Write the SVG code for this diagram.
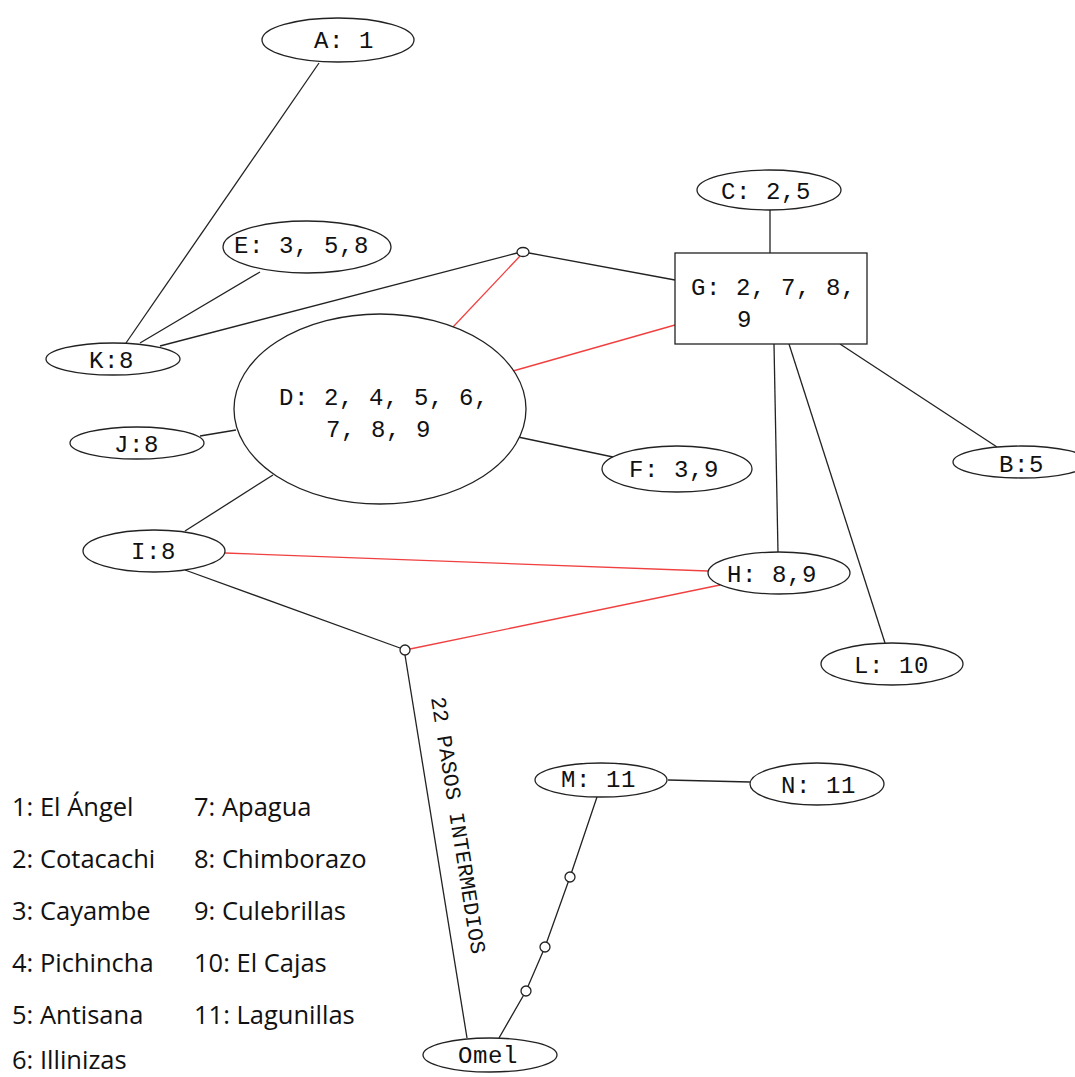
<svg xmlns="http://www.w3.org/2000/svg" width="1075" height="1077" viewBox="0 0 1075 1077">
<style>
.n{fill:#fff;stroke:#222;stroke-width:1.3}
.t{font-family:"Liberation Mono","DejaVu Sans Mono",monospace;font-size:24px;letter-spacing:0.6px;fill:#111}
.rt{font-family:"Liberation Mono","DejaVu Sans Mono",monospace;font-size:21.5px;letter-spacing:0.1px;fill:#111}
.e{stroke:#222;stroke-width:1.3;fill:none}
.r{stroke:#f04040;stroke-width:1.3;fill:none}
.j{fill:#fff;stroke:#222;stroke-width:1.3}
.lg{font-family:"Open Sans","Noto Sans","Liberation Sans",sans-serif;font-size:25.5px;fill:#111}
</style>
<rect width="1075" height="1077" fill="#fff"/>
<g id="connectors">
<line class="e" x1="319" y1="63" x2="126" y2="343"/>
<line class="e" x1="260" y1="272" x2="140" y2="343"/>
<line class="e" x1="160" y1="346" x2="517" y2="253"/>
<line class="e" x1="529" y1="253" x2="675" y2="280"/>
<line class="r" x1="520" y1="256" x2="453" y2="327"/>
<line class="r" x1="675" y1="325" x2="513" y2="371"/>
<line class="e" x1="770" y1="210" x2="770" y2="253"/>
<line class="e" x1="840" y1="344" x2="997" y2="447"/>
<line class="e" x1="774" y1="344" x2="778" y2="553"/>
<line class="e" x1="789" y1="344" x2="885" y2="643"/>
<line class="e" x1="200" y1="436" x2="236" y2="430"/>
<line class="e" x1="518" y1="437" x2="613" y2="457"/>
<line class="e" x1="273" y1="475" x2="185" y2="531"/>
<line class="r" x1="225" y1="553" x2="708" y2="571"/>
<line class="e" x1="185" y1="570" x2="400" y2="648"/>
<line class="r" x1="410" y1="649" x2="720" y2="585"/>
<line class="e" x1="405" y1="655" x2="467" y2="1038"/>
<line class="e" x1="668" y1="780" x2="750" y2="782"/>
<polyline class="e" points="597,797 570,877 545,947 526,991 499,1038"/>
<text class="rt" transform="translate(431,698) rotate(81)">22 PASOS INTERMEDIOS</text>
<ellipse class="j" cx="523" cy="252" rx="6" ry="4.5"/>
<circle class="j" cx="405" cy="650" r="5"/>
<circle class="j" cx="570" cy="877" r="5"/>
<circle class="j" cx="545" cy="947" r="5"/>
<circle class="j" cx="526" cy="991" r="5"/>
</g>
<g id="A"><ellipse class="n" cx="338" cy="40" rx="76" ry="22"/><text class="t" x="314" y="48">A: 1</text></g>
<g id="C"><ellipse class="n" cx="769" cy="190" rx="72" ry="20"/><text class="t" x="721" y="199">C: 2,5</text></g>
<g id="E"><ellipse class="n" cx="307" cy="247" rx="84" ry="26"/><text class="t" x="234" y="253">E: 3, 5,8</text></g>
<g id="G"><rect class="n" x="675" y="253" width="192" height="91"/><text class="t" x="691" y="295">G: 2, 7, 8,</text><text class="t" x="737" y="327">9</text></g>
<g id="K"><ellipse class="n" cx="113" cy="359" rx="67" ry="16"/><text class="t" x="89" y="368">K:8</text></g>
<g id="D"><ellipse class="n" cx="380" cy="409" rx="146" ry="95"/><text class="t" x="279" y="405">D: 2, 4, 5, 6,</text><text class="t" x="326" y="437">7, 8, 9</text></g>
<g id="J"><ellipse class="n" cx="137" cy="443" rx="67" ry="16"/><text class="t" x="114" y="452">J:8</text></g>
<g id="F"><ellipse class="n" cx="677" cy="469" rx="75" ry="23"/><text class="t" x="629" y="477">F: 3,9</text></g>
<g id="B"><ellipse class="n" cx="1021" cy="462" rx="68" ry="16"/><text class="t" x="999" y="472">B:5</text></g>
<g id="I"><ellipse class="n" cx="154" cy="551" rx="71" ry="21"/><text class="t" x="131" y="559">I:8</text></g>
<g id="H"><ellipse class="n" cx="779" cy="573" rx="71" ry="21"/><text class="t" x="727" y="582">H: 8,9</text></g>
<g id="L"><ellipse class="n" cx="892" cy="664" rx="71" ry="21"/><text class="t" x="854" y="673">L: 10</text></g>
<g id="M"><ellipse class="n" cx="601" cy="780" rx="66" ry="17"/><text class="t" x="561" y="787">M: 11</text></g>
<g id="N"><ellipse class="n" cx="817" cy="784" rx="67" ry="21"/><text class="t" x="781" y="793">N: 11</text></g>
<g id="Omel"><ellipse class="n" cx="490" cy="1055" rx="67" ry="17"/><text class="t" x="458" y="1063">Omel</text></g>
<g id="legend">
<text class="lg" x="12" y="816">1: El Ángel</text>
<text class="lg" x="12" y="868">2: Cotacachi</text>
<text class="lg" x="12" y="920">3: Cayambe</text>
<text class="lg" x="12" y="972">4: Pichincha</text>
<text class="lg" x="12" y="1024">5: Antisana</text>
<text class="lg" x="12" y="1069">6: Illinizas</text>
<text class="lg" x="194" y="816">7: Apagua</text>
<text class="lg" x="194" y="868">8: Chimborazo</text>
<text class="lg" x="194" y="920">9: Culebrillas</text>
<text class="lg" x="194" y="972">10: El Cajas</text>
<text class="lg" x="194" y="1024">11: Lagunillas</text>
</g>
</svg>
